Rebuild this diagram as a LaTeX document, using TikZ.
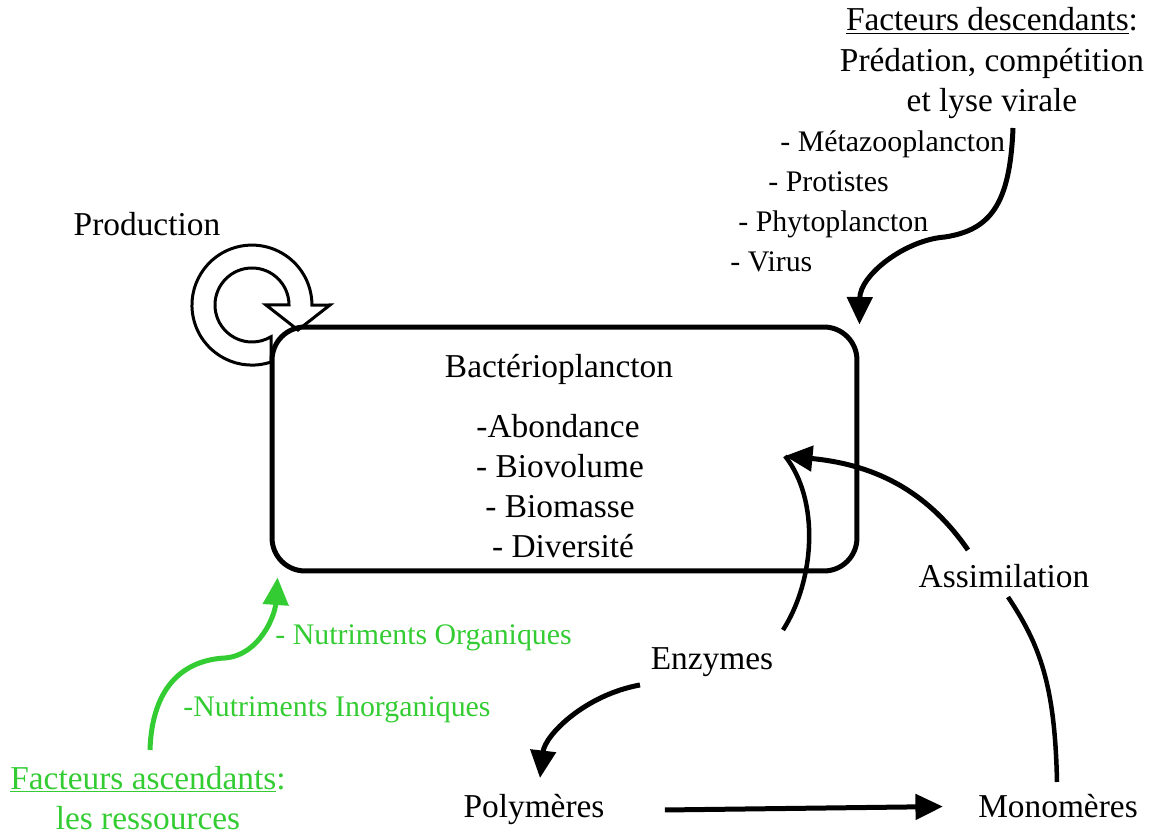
\documentclass[tikz,border=0pt]{standalone}
\usepackage{fontspec}
\setmainfont{Liberation Serif}
\usetikzlibrary{arrows.meta}
\definecolor{vert}{RGB}{51,204,51}

\begin{document}
\begin{tikzpicture}[x=0.02cm,y=0.02cm,
    txt/.style={inner sep=0pt,anchor=base,font=\fontsize{19}{23.3}\selectfont},
    petit/.style={inner sep=0pt,anchor=base west,font=\fontsize{17}{21}\selectfont},
    fleche/.style={line width=0.1cm,-{Triangle[width=0.5cm,length=0.55cm]}},
    trait/.style={line width=0.09cm}]
    \useasboundingbox (0,0) rectangle (1157,835);

        \draw[line width=0.06cm,fill=white] (271,473) arc[start angle=-71.5,end angle=-360,radius=60]
            -- (330,530) -- (298,505) -- (266,530) -- (289,530) arc[start angle=0,end angle=301,radius=37] -- cycle;
        \node[draw,line width=0.1cm,rounded corners=0.66cm,minimum width=11.7cm,minimum height=4.88cm] (bact) at (564.5,386) {};

        \node[txt] (prod) at (147,599) {Production};
        \node[txt] (titre) at (559,457) {Bactérioplancton};
        \node[txt] (abond) at (558,397) {-Abondance};
        \node[txt] (biovol) at (560,357) {- Biovolume};
        \node[txt] (biom) at (560,317) {- Biomasse};
        \node[txt] (div) at (563,277) {- Diversité};

        \node[txt,align=center] (desc) at (992,723) {\underline{Facteurs descendants}:\\Prédation, compétition\\et lyse virale};
        \node[petit] (meta) at (780,683) {- Métazooplancton};
        \node[petit] (prot) at (768,643) {- Protistes};
        \node[petit] (phyto) at (738,603) {- Phytoplancton};
        \node[petit] (virus) at (730,563) {- Virus};

        \node[txt,text=vert,align=center] (asc) at (148,5) {\underline{Facteurs ascendants}:\\les ressources};
        \node[petit,text=vert] (orga) at (275,190) {- Nutriments Organiques};
        \node[petit,text=vert] (inorga) at (183,118) {-Nutriments Inorganiques};

        \node[txt] (enz) at (712,165) {Enzymes};
        \node[txt] (assim) at (1004,247) {Assimilation};
        \node[txt] (poly) at (534,17) {Polymères};
        \node[txt] (mono) at (1058,17) {Monomères};

        \coordinate (d1) at (1013,707);
        \coordinate (a1) at (150,85);
        \coordinate (cible) at (785,379);
        \coordinate (e1) at (783,205);
        \coordinate (e2) at (640,150);
        \coordinate (s1) at (968,285);
        \coordinate (m1) at (1057,53);
        \coordinate (m2) at (1008,238);

        \draw[fleche] (d1) .. controls (1010,630) and (990,605) .. (945,598)
            .. controls (905,595) and (860,560) .. (bact.north east);
        \draw[fleche,vert] (a1) .. controls (152,150) and (185,175) .. (225,177)
            .. controls (260,180) and (275,220) .. ([shift={(0.16cm,-0.08cm)}]bact.south west);
        \draw[trait] (e1) .. controls (815,255) and (820,335) .. (cible);
        \draw[fleche] (s1) .. controls (930,340) and (880,370) .. (cible);
        \draw[trait] (m1) .. controls (1055,150) and (1040,190) .. (m2);
        \draw[fleche] (e2) .. controls (585,140) and (545,100) .. (540,57);
        \draw[fleche] ([xshift=1.2cm]poly.east) -- ([xshift=-0.7cm]mono.west);

\end{tikzpicture}
\end{document}
